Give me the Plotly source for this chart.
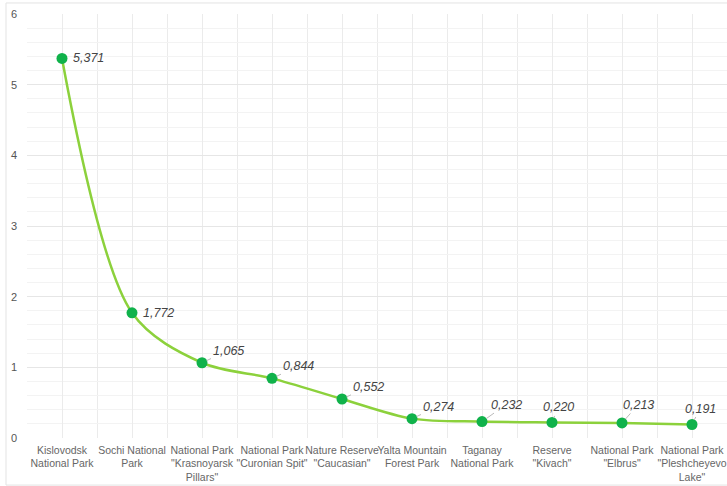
import plotly.graph_objects as go

categories = [
    "Kislovodsk<br>National Park",
    "Sochi National<br>Park",
    "National Park<br>\"Krasnoyarsk<br>Pillars\"",
    "National Park<br>\"Curonian Spit\"",
    "Nature Reserve<br>\"Caucasian\"",
    "Yalta Mountain<br>Forest Park",
    "Taganay<br>National Park",
    "Reserve<br>\"Kivach\"",
    "National Park<br>\"Elbrus\"",
    "National Park<br>\"Pleshcheyevo<br>Lake\"",
]
values = [5.371, 1.772, 1.065, 0.844, 0.552, 0.274, 0.232, 0.220, 0.213, 0.191]
y_ticks = [0, 1, 2, 3, 4, 5, 6]

# label placement (pixel offsets, style only)
label_offsets = [(0, 0, False), (0, 0, False), (26, -12, True), (26, -12, True), (26, -12, True),
                 (26, -12, True), (24, -17, True), (6, -15, True), (16, -18, True), (8, -16, True)]

LABEL_FONT = dict(family="Liberation Sans, Arial", size=12.5, color="#444444")

xs = list(range(len(categories)))
fig = go.Figure()
fig.add_trace(go.Scatter(
    x=xs, y=values, mode="lines+markers",
    line=dict(color="#8cd13c", width=2.5, shape="spline", smoothing=0.9),
    marker=dict(color="#10b24b", size=11),
    hoverinfo="skip",
))

for x, v, (ax, ay, arrow) in zip(xs, values, label_offsets):
    txt = "<i>" + f"{v:.3f}".replace(".", ",") + "</i>"
    if arrow:
        fig.add_annotation(x=x, y=v, text=txt, showarrow=True, ax=ax, ay=ay,
                           arrowhead=0, arrowwidth=1, arrowcolor="#bbbbbb", standoff=5,
                           font=LABEL_FONT)
    else:
        fig.add_annotation(x=x, y=v, text=txt, showarrow=False, xshift=9, xanchor="left",
                           font=LABEL_FONT)

# outer border
fig.add_shape(type="rect", xref="paper", yref="paper", x0=-0.03, x1=1.02, y0=-0.111, y1=1.026,
              line=dict(color="#e3e3e3", width=1), layer="below")

fig.update_layout(
    width=727, height=486,
    margin=dict(l=27, r=0, t=14, b=48, autoexpand=False),
    paper_bgcolor="white", plot_bgcolor="white",
    showlegend=False,
    font=dict(family="Liberation Sans, Arial", color="#666666"),
    xaxis=dict(
        range=[-0.5, len(categories) - 0.5],
        tickvals=xs, ticktext=categories, tickangle=0, automargin=False,
        tickfont=dict(size=10.5, color="#666666"),
        showgrid=True, gridcolor="#ebebeb", gridwidth=1,
        minor=dict(tickmode="linear", tick0=-0.5, dtick=1, showgrid=True, gridcolor="#ebebeb", gridwidth=1),
        zeroline=False, showline=False, ticks="", ticklabelstandoff=4,
    ),
    yaxis=dict(
        range=[0, 6], tickvals=y_ticks, automargin=False,
        tickfont=dict(size=11, color="#555555"),
        showgrid=True, gridcolor="#e6e6e6", gridwidth=1,
        minor=dict(tickmode="linear", tick0=0, dtick=0.2, showgrid=True, gridcolor="#f3f3f3", gridwidth=1),
        zeroline=False, showline=False, ticks="", ticklabelstandoff=9,
    ),
)

fig.write_html("out.html")
